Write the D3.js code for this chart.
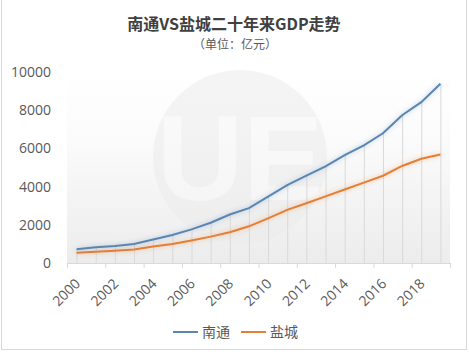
<!DOCTYPE html>
<html lang="zh">
<head>
    <meta charset="UTF-8">
    <title>南通VS盐城二十年来GDP走势</title>
    <script src="https://d3js.org/d3.v7.min.js"></script>
    <style>
        body { margin: 0; background: #fff; }
        svg { display: block; }
        .tick-label { font-family: "Open Sans", sans-serif; font-size: 14px; fill: #595959; }
        .cjk { font-family: "Noto Sans CJK SC", sans-serif; }
    </style>
</head>
<body>
    <div id="chart"></div>

    <script>
        // data (亿元)
        const years = d3.range(2000, 2020);
        const nantong = [720, 820, 890, 1000, 1230, 1470, 1760, 2110, 2540, 2870,
                         3480, 4080, 4570, 5060, 5650, 6160, 6790, 7740, 8420, 9380];
        const yancheng = [540, 590, 640, 710, 860, 1000, 1180, 1380, 1610, 1920,
                          2340, 2780, 3130, 3490, 3850, 4210, 4570, 5080, 5460, 5680];
        const yTicks = [0, 2000, 4000, 6000, 8000, 10000];
        const xLabels = [2000, 2002, 2004, 2006, 2008, 2010, 2012, 2014, 2016, 2018];

        const width = 469, height = 352;
        const plot = { left: 67, right: 450, top: 72, bottom: 263 };

        const svg = d3.select("#chart")
            .append("svg")
            .attr("width", width)
            .attr("height", height);

        const defs = svg.append("defs");
        const grad = defs.append("linearGradient")
            .attr("id", "bg")
            .attr("x1", 0).attr("y1", 0).attr("x2", 0).attr("y2", 1);
        grad.append("stop").attr("offset", "0%").attr("stop-color", "#ffffff");
        grad.append("stop").attr("offset", "35%").attr("stop-color", "#fbfbfb");
        grad.append("stop").attr("offset", "100%").attr("stop-color", "#ececec");

        // soft halo round the lines
        const glow = defs.append("filter").attr("id", "glow")
            .attr("x", "-5%").attr("y", "-20%").attr("width", "110%").attr("height", "140%");
        glow.append("feGaussianBlur").attr("in", "SourceGraphic").attr("stdDeviation", 2.5).attr("result", "b");
        glow.append("feComponentTransfer").attr("in", "b").attr("result", "bf")
            .append("feFuncA").attr("type", "linear").attr("slope", 0.45);
        const merge = glow.append("feMerge");
        merge.append("feMergeNode").attr("in", "bf");
        merge.append("feMergeNode").attr("in", "SourceGraphic");

        // frame
        svg.append("rect")
            .attr("x", 1.5).attr("y", -5)
            .attr("width", 465).attr("height", 354.5)
            .attr("fill", "none")
            .attr("stroke", "#d9d9d9");

        // scales
        const x = d3.scaleBand()
            .domain(years)
            .range([plot.left, plot.right]);
        const cx = d => x(d) + x.bandwidth() / 2;

        const y = d3.scaleLinear()
            .domain([0, 10000])
            .range([plot.bottom, plot.top]);

        // plot background
        svg.append("rect")
            .attr("x", plot.left).attr("y", plot.top)
            .attr("width", plot.right - plot.left).attr("height", plot.bottom - plot.top)
            .attr("fill", "url(#bg)");

        // watermark
        const wm = svg.append("g").attr("opacity", 0.55);
        wm.append("circle")
            .attr("cx", 240).attr("cy", 157).attr("r", 87)
            .attr("fill", "#ececec");
        wm.append("text")
            .attr("x", 240).attr("y", 200)
            .attr("text-anchor", "middle")
            .attr("font-family", "Liberation Sans, sans-serif")
            .attr("font-weight", "bold")
            .attr("font-size", 120)
            .attr("fill", "#f8f8f8")
            .text("UE");

        // drop lines
        svg.append("g")
            .selectAll("line")
            .data(years)
            .join("line")
            .attr("x1", d => cx(d) + 0.5).attr("x2", d => cx(d) + 0.5)
            .attr("y1", (d, i) => y(nantong[i]))
            .attr("y2", plot.bottom)
            .attr("stroke", "#d9d9d9")
            .attr("stroke-width", 1);

        // x axis
        svg.append("line")
            .attr("x1", plot.left).attr("x2", plot.right)
            .attr("y1", plot.bottom + 0.5).attr("y2", plot.bottom + 0.5)
            .attr("stroke", "#d9d9d9");

        svg.append("g")
            .selectAll("line")
            .data(xLabels.concat([2020]))
            .join("line")
            .attr("x1", d => (d === 2020 ? plot.right : x(d)) + 0.5)
            .attr("x2", d => (d === 2020 ? plot.right : x(d)) + 0.5)
            .attr("y1", plot.bottom).attr("y2", plot.bottom + 5)
            .attr("stroke", "#d9d9d9");

        svg.append("g")
            .selectAll("text")
            .data(xLabels)
            .join("text")
            .attr("class", "tick-label")
            .attr("transform", d => `translate(${cx(d) + 1},${plot.bottom + 18}) rotate(-45)`)
            .attr("text-anchor", "end")
            .attr("dy", "0.35em")
            .text(d => d);

        // y axis labels
        svg.append("g")
            .selectAll("text")
            .data(yTicks)
            .join("text")
            .attr("class", "tick-label")
            .attr("x", 51)
            .attr("y", d => y(d))
            .attr("dy", "0.36em")
            .attr("text-anchor", "end")
            .text(d => d);

        // lines
        const line = d3.line()
            .x((d, i) => cx(years[i]))
            .y(d => y(d));

        svg.append("path")
            .datum(yancheng)
            .attr("d", line)
            .attr("fill", "none")
            .attr("stroke", "#e67e35")
            .attr("stroke-width", 2)
            .attr("filter", "url(#glow)");

        svg.append("path")
            .datum(nantong)
            .attr("d", line)
            .attr("fill", "none")
            .attr("stroke", "#5a86b3")
            .attr("stroke-width", 2)
            .attr("filter", "url(#glow)");

        // title
        svg.append("text")
            .attr("class", "cjk")
            .attr("x", 234).attr("y", 30)
            .attr("text-anchor", "middle")
            .attr("font-size", 16)
            .attr("font-weight", "bold")
            .attr("fill", "#404040")
            .text("南通VS盐城二十年来GDP走势");

        svg.append("text")
            .attr("class", "cjk")
            .attr("x", 235).attr("y", 49)
            .attr("text-anchor", "middle")
            .attr("font-size", 12)
            .attr("fill", "#595959")
            .text("（单位：亿元）");

        // legend
        const legend = [
            { name: "南通", color: "#5a86b3", x: 173 },
            { name: "盐城", color: "#e67e35", x: 241 }
        ];
        const lg = svg.append("g")
            .selectAll("g")
            .data(legend)
            .join("g")
            .attr("transform", d => `translate(${d.x},332)`);
        lg.append("line")
            .attr("x1", 0).attr("x2", 25)
            .attr("stroke", d => d.color)
            .attr("stroke-width", 2);
        lg.append("text")
            .attr("class", "cjk")
            .attr("x", 29)
            .attr("dy", "0.36em")
            .attr("font-size", 14)
            .attr("fill", "#595959")
            .text(d => d.name);
    </script>
</body>
</html>
